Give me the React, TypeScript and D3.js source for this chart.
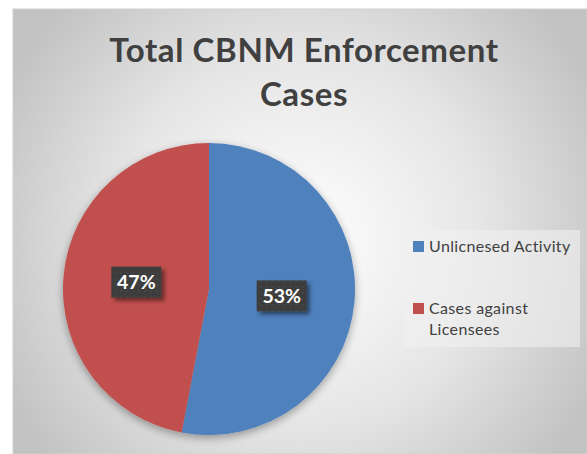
import React from "react";
import * as d3 from "d3";

const categories = ["Unlicnesed Activity", "Cases against Licensees"];
const values = [53, 47];
const colors = ["#4f81bd", "#c0504d"];
const legendLines = [["Unlicnesed Activity"], ["Cases against", "Licensees"]];
const titleLines = ["Total CBNM Enforcement", "Cases"];

const W = 587;
const H = 454;

export default function App() {
  const cx = 209, cy = 289, r = 146;
  const pie = d3.pie<number>().sort(null).value((d) => d);
  const arcs = pie(values);
  const arc = d3.arc<d3.PieArcDatum<number>>().innerRadius(0).outerRadius(r);
  const labelArc = d3.arc<d3.PieArcDatum<number>>().innerRadius(r * 0.5).outerRadius(r * 0.5);
  const font = "Lato, 'Open Sans', sans-serif";
  return (
    <svg width={W} height={H} style={{ position: "absolute", left: 0, top: 0 }}>
      <defs>
        <radialGradient id="bg" gradientUnits="userSpaceOnUse" cx={300} cy={240} r={330}>
          <stop offset="0" stopColor="#ffffff" />
          <stop offset="0.55" stopColor="#e6e6e6" />
          <stop offset="1" stopColor="#c3c3c3" />
        </radialGradient>
        <filter id="sh" x="-20%" y="-20%" width="140%" height="140%">
          <feGaussianBlur in="SourceAlpha" stdDeviation="4" />
          <feOffset dx="0" dy="3" result="b" />
          <feComponentTransfer><feFuncA type="linear" slope="0.35" /></feComponentTransfer>
          <feMerge><feMergeNode /><feMergeNode in="SourceGraphic" /></feMerge>
        </filter>
        <filter id="lsh" x="-30%" y="-30%" width="160%" height="160%">
          <feGaussianBlur in="SourceAlpha" stdDeviation="2" />
          <feOffset dx="3" dy="3" />
          <feComponentTransfer><feFuncA type="linear" slope="0.5" /></feComponentTransfer>
          <feMerge><feMergeNode /><feMergeNode in="SourceGraphic" /></feMerge>
        </filter>
        <pattern id="dots" width="6" height="6" patternUnits="userSpaceOnUse">
          <rect width="6" height="6" fill="#3d3d3d" />
          <circle cx="3" cy="3" r="1" fill="#474747" />
        </pattern>
      </defs>
      <rect x={0} y={0} width={W} height={H} fill="#ffffff" />
      <rect x={13} y={9} width={W - 13} height={H - 9} fill="url(#bg)" stroke="#d0d0d0" />
      {titleLines.map((t, i) => (
        <text key={i} x={304} y={62 + i * 44} textAnchor="middle" fontFamily={font} fontWeight={700}
          fontSize={33} letterSpacing={0.6} fill="#404040">{t}</text>
      ))}
      <g transform={`translate(${cx},${cy})`} filter="url(#sh)">
        {arcs.map((a, i) => (
          <path key={i} d={arc(a) || ""} fill={colors[i]} />
        ))}
      </g>
      <g transform={`translate(${cx},${cy})`}>
        {arcs.map((a, i) => {
          const [lx, ly] = labelArc.centroid(a);
          const bw = 50, bh = 31;
          return (
            <g key={i} transform={`translate(${lx},${ly})`}>
              <rect x={-bw / 2} y={-bh / 2} width={bw} height={bh} fill="url(#dots)" filter="url(#lsh)" />
              <text x={0} y={7} textAnchor="middle" fontFamily={font} fontWeight={700} fontSize={19.5}
                fill="#ffffff">{`${values[i]}%`}</text>
            </g>
          );
        })}
      </g>
      <rect x={404} y={230} width={176} height={117} fill="#f0f0f0" fillOpacity={0.6} />
      {legendLines.map((lines, i) => (
        <g key={i} transform={`translate(413,${241 + i * 62})`}>
          <rect x={0} y={0} width={11} height={11} fill={colors[i]} />
          {lines.map((l, j) => (
            <text key={j} x={16} y={11 + j * 21} fontFamily={font} fontSize={16} letterSpacing={0.35}
              fill="#404040">{l}</text>
          ))}
        </g>
      ))}
    </svg>
  );
}
